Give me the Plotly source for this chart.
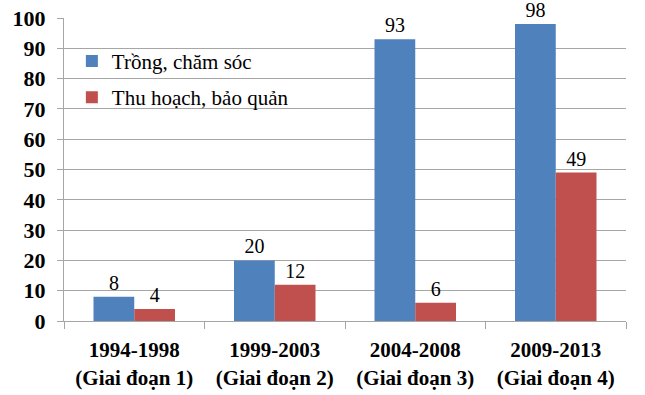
import plotly.graph_objects as go

categories = ["<b>1994-1998</b><br><b>(Giai đoạn 1)</b>",
              "<b>1999-2003</b><br><b>(Giai đoạn 2)</b>",
              "<b>2004-2008</b><br><b>(Giai đoạn 3)</b>",
              "<b>2009-2013</b><br><b>(Giai đoạn 4)</b>"]
series1_name = "Trồng, chăm sóc"
series1 = [8, 20, 93, 98]
series2_name = "Thu hoạch, bảo quản"
series2 = [4, 12, 6, 49]

FONT = "'Liberation Serif', Times, serif"

fig = go.Figure()
fig.add_trace(go.Bar(x=categories, y=series1, name=series1_name,
                     marker=dict(color="#4F81BD", line=dict(width=0)),
                     text=[str(v) for v in series1], textposition="outside",
                     textfont=dict(family=FONT, size=20, color="black"),
                     cliponaxis=False, legendgroup="a"))
fig.add_trace(go.Bar(x=categories, y=series2, name=series2_name,
                     marker=dict(color="#C0504D", line=dict(width=0)),
                     text=[str(v) for v in series2], textposition="outside",
                     textfont=dict(family=FONT, size=20, color="black"),
                     cliponaxis=False, legendgroup="b"))

fig.update_layout(
    width=645, height=395,
    margin=dict(l=64, r=19, t=18, b=74, autoexpand=False),
    paper_bgcolor="white", plot_bgcolor="white",
    barmode="group", bargap=0.42, bargroupgap=0,
    font=dict(family=FONT, size=20, color="black"),
    showlegend=True,
    legend=dict(x=0.014, y=0.925, xanchor="left", yanchor="top",
                bgcolor="rgba(0,0,0,0)", traceorder="grouped",
                tracegroupgap=6, font=dict(family=FONT, size=21),
                itemwidth=30),
)
fig.update_yaxes(range=[0, 100], dtick=10, showgrid=True, gridcolor="#A6A6A6",
                 gridwidth=1, showline=True, linecolor="#A6A6A6", linewidth=1,
                 ticks="outside", ticklen=6, tickcolor="#A6A6A6",
                 tickfont=dict(family=FONT, size=22, color="black", weight="bold"),
                 zeroline=False, ticklabelstandoff=7, automargin=False)
fig.update_xaxes(showline=True, linecolor="#A6A6A6", linewidth=1,
                 ticks="outside", ticklen=7, tickcolor="#A6A6A6",
                 tickson="boundaries", automargin=False, tickangle=0,
                 tickfont=dict(family=FONT, size=21, color="black"),
                 ticklabelstandoff=10)

fig.write_html("out.html", config={"displayModeBar": False},
               post_script="document.body.style.margin='0';")
